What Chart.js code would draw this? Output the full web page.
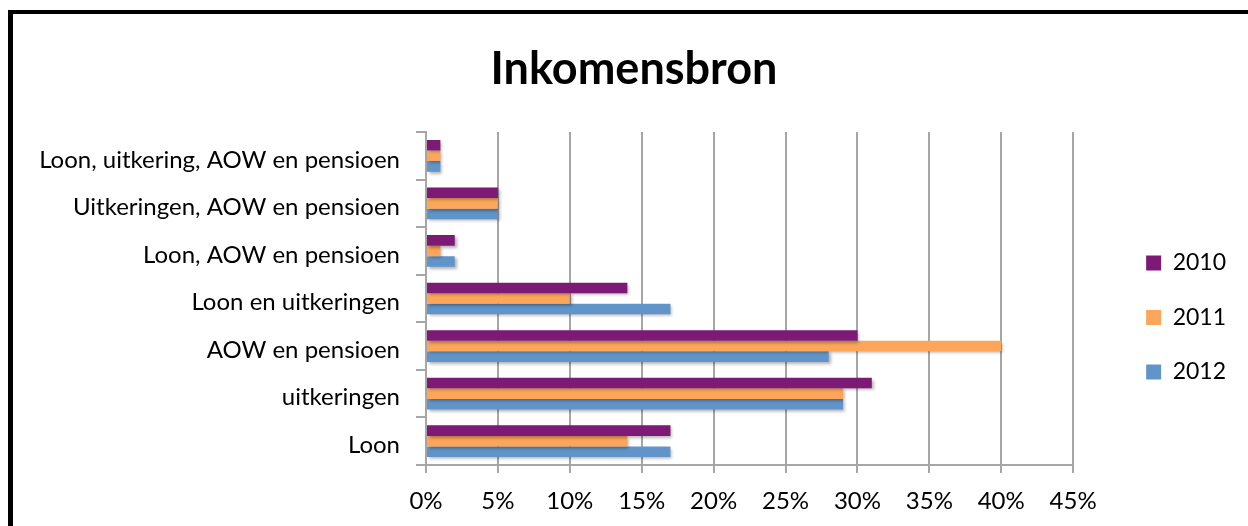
<!DOCTYPE html>
<html>
<head>
<meta charset="utf-8">
<script src="https://cdn.jsdelivr.net/npm/chart.js@4/dist/chart.umd.min.js"></script>
<style>
  html, body { margin: 0; padding: 0; background: #fff; }
  .frame {
    position: absolute; left: 8px; top: 10px; width: 1300px; height: 600px;
    border-left: 5px solid #000; border-top: 4px solid #000;
    box-shadow: 0 1px 0 #999;
  }
  .wrap { position: absolute; left: 0; top: 0; width: 1248px; height: 526px; }
</style>
</head>
<body>
<div class="frame"></div>
<div class="wrap"><canvas id="incomeChart" width="1248" height="526"></canvas></div>
<script>
const categories = [
    "Loon",
    "uitkeringen",
    "AOW en pensioen",
    "Loon en uitkeringen",
    "Loon, AOW en pensioen",
    "Uitkeringen, AOW en pensioen",
    "Loon, uitkering, AOW en pensioen",
];
const years = ["2010", "2011", "2012"];
const values2010 = [17, 31, 30, 14, 2, 5, 1];
const values2011 = [14, 29, 40, 10, 1, 5, 1];
const values2012 = [17, 29, 28, 17, 2, 5, 1];
const colors = ["#7d1a76", "#fba65a", "#6195ca"];
const xTicks = [0, 5, 10, 15, 20, 25, 30, 35, 40, 45];

const font = "Lato, 'Open Sans', sans-serif";
const gridGrey = "#a6a6a6";

// drop shadow behind the bars, like the Excel original
const barShadow = {
    id: "barShadow",
    beforeDatasetsDraw(chart) {
        const ctx = chart.ctx;
        ctx.save();
        ctx.shadowColor = "rgba(0,0,0,0.3)";
        ctx.shadowBlur = 3;
        ctx.shadowOffsetX = 2;
        ctx.shadowOffsetY = 2;
    },
    afterDatasetsDraw(chart) {
        chart.ctx.restore();
    },
};

new Chart(document.getElementById("incomeChart"), {
    type: "bar",
    data: {
        labels: categories,
        datasets: [values2010, values2011, values2012].map((vals, i) => ({
            label: years[i],
            data: vals,
            backgroundColor: colors[i],
            borderWidth: 0,
            categoryPercentage: 0.667,
            barPercentage: 1,
        })),
    },
    plugins: [barShadow],
    options: {
        indexAxis: "y",
        responsive: false,
        animation: false,
        devicePixelRatio: 1,
        layout: { padding: { left: 32, right: 12, top: 0, bottom: 0 } },
        plugins: {
            tooltip: { enabled: false },
            title: {
                display: true,
                text: "Inkomensbron",
                color: "#000",
                font: { family: font, size: 45, weight: "bold" },
                padding: { top: 42, bottom: 36 },
            },
            legend: {
                position: "right",
                fullSize: false,
                title: { display: true, text: "", font: { size: 10 }, padding: 13 },
                labels: {
                    color: "#000",
                    font: { family: font, size: 23 },
                    boxWidth: 15,
                    boxHeight: 15,
                    padding: 31.5,
                },
            },
        },
        scales: {
            x: {
                min: 0,
                max: 45,
                afterBuildTicks: (scale) => {
                    scale.ticks = xTicks.map((v) => ({ value: v }));
                },
                ticks: {
                    color: "#000",
                    font: { family: font, size: 24 },
                    padding: 14,
                    callback: (v) => v + "%",
                },
                grid: { color: gridGrey, lineWidth: 2, tickLength: 8 },
                border: { color: gridGrey, width: 2 },
                afterFit: (scale) => { scale.height = 61; },
            },
            y: {
                reverse: true,
                ticks: {
                    color: "#000",
                    font: { family: font, size: 24 },
                    padding: 16,
                    labelOffset: 4,
                },
                grid: {
                    drawOnChartArea: false,
                    color: gridGrey,
                    lineWidth: 2,
                    tickLength: 10,
                },
                border: { color: gridGrey, width: 2 },
                afterFit: (scale) => { scale.width = 394; },
            },
            // empty spacer axis: keeps the gap between plot and legend
            gap: {
                type: "linear",
                axis: "y",
                position: "right",
                ticks: { display: false },
                grid: { display: false },
                border: { display: false },
                afterFit: (scale) => { scale.width = 41.5; },
            },
        },
    },
});
</script>
</body>
</html>
